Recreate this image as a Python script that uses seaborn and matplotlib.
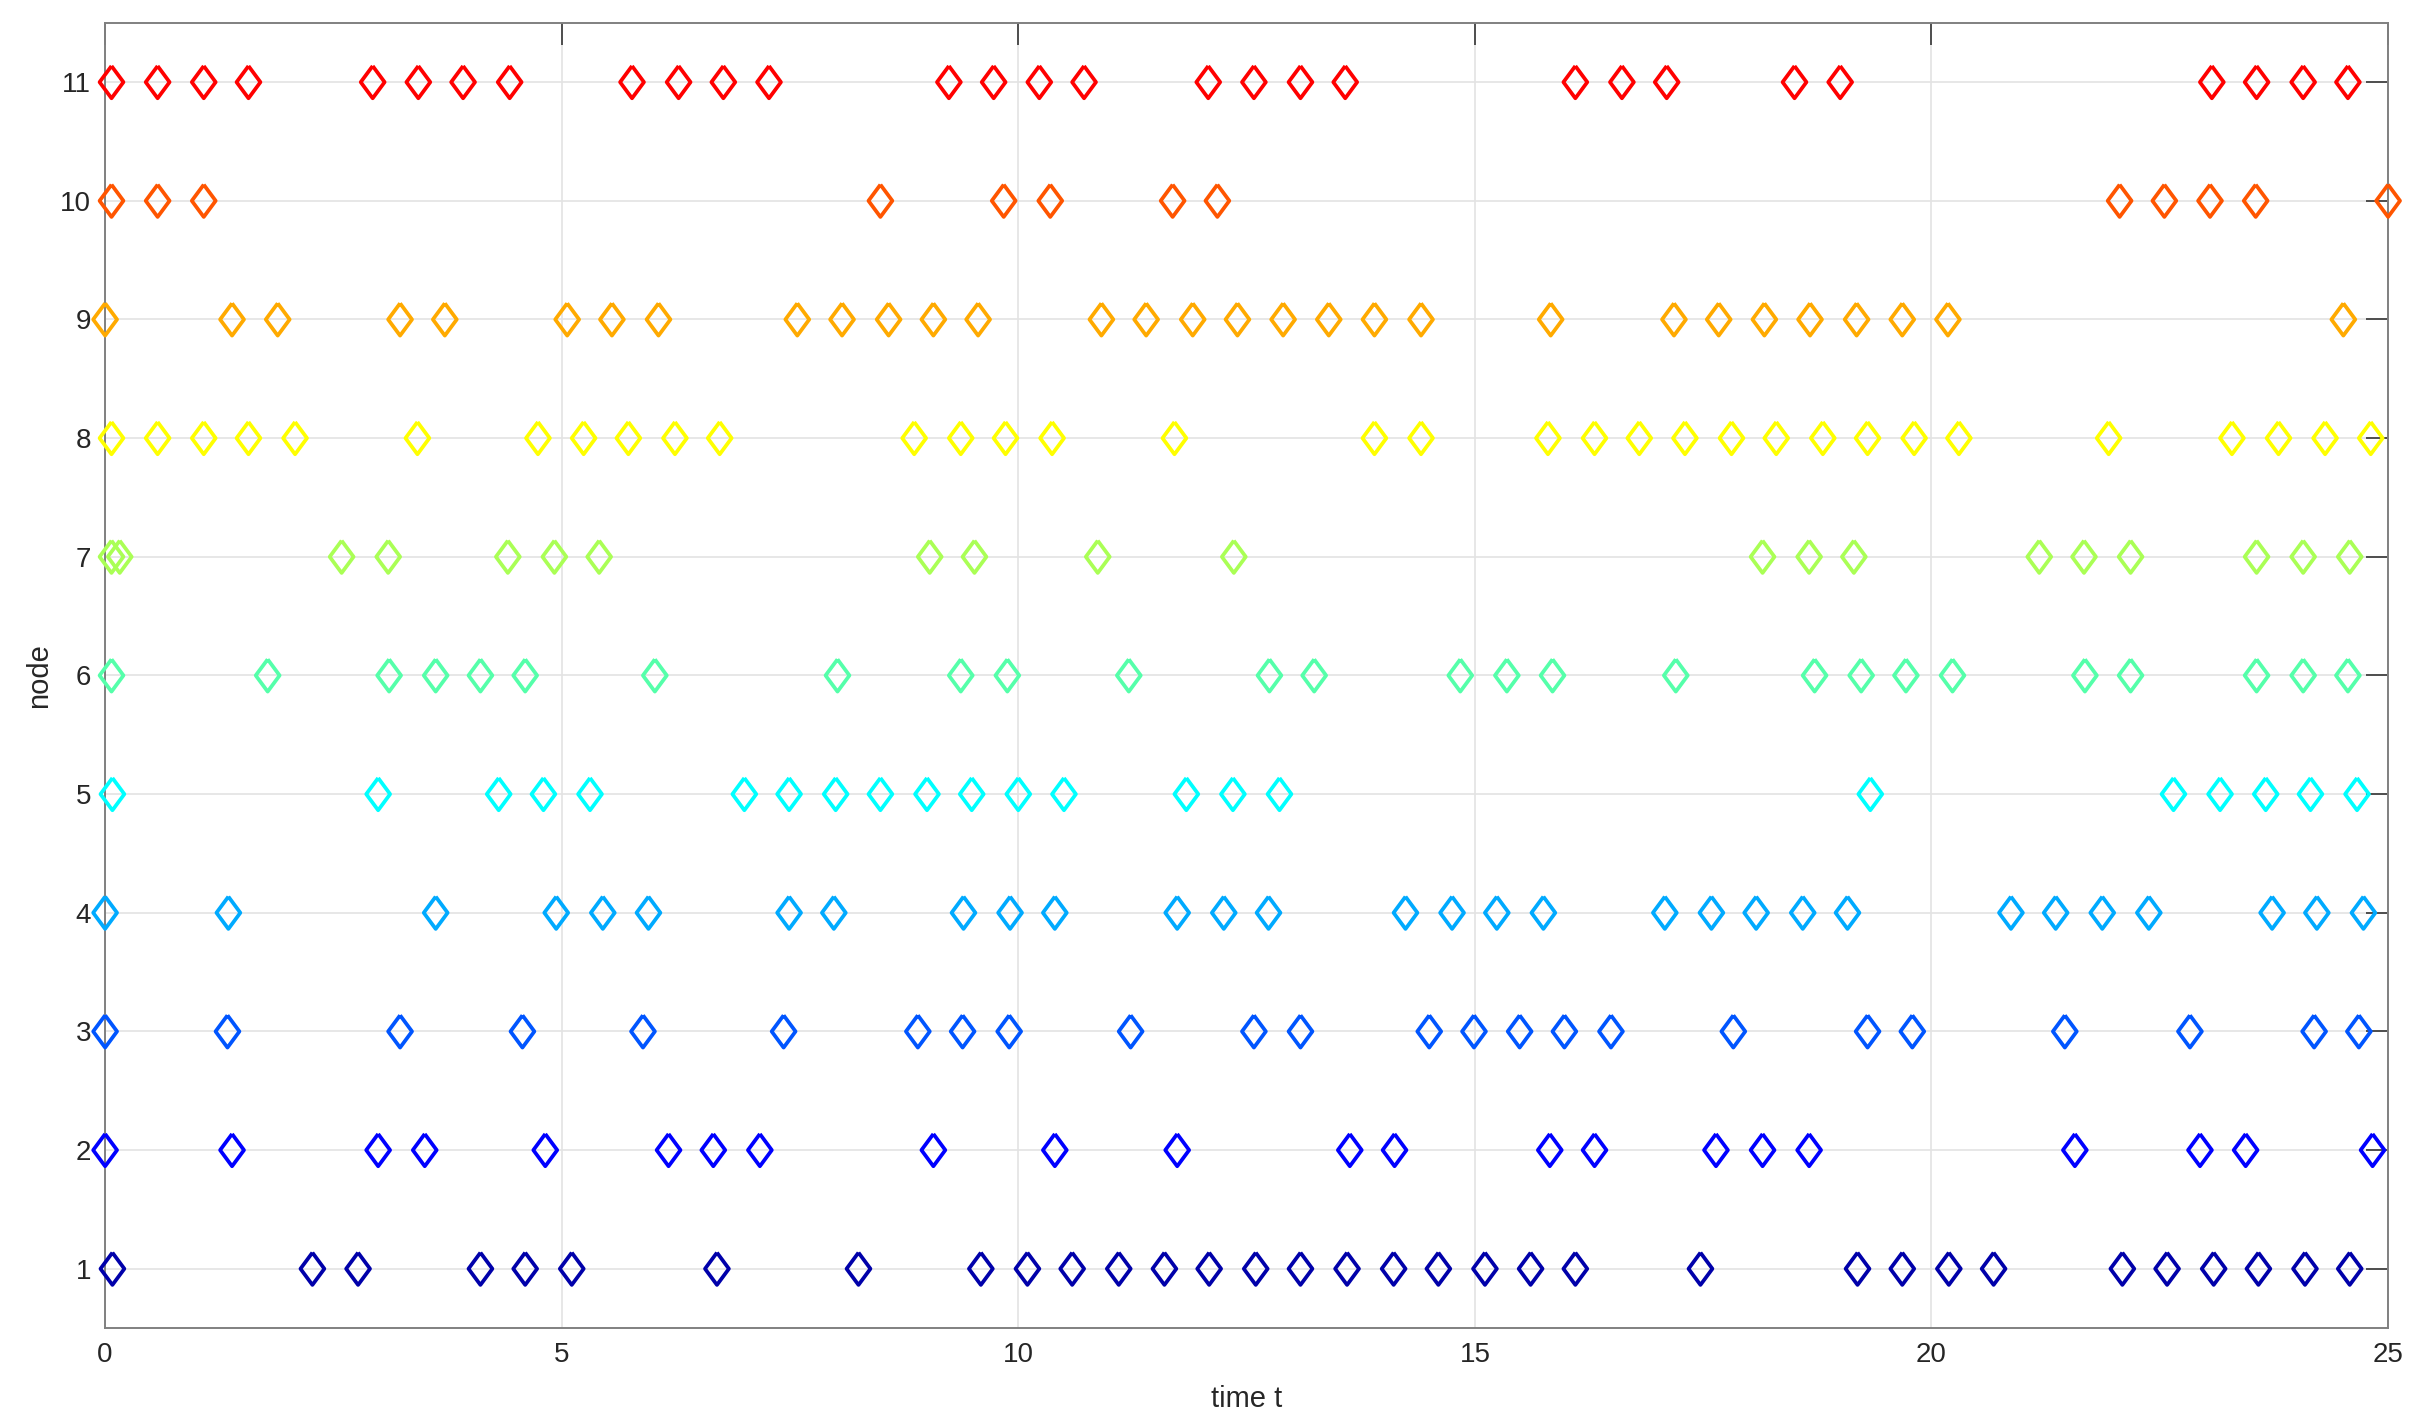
import numpy as np
import pandas as pd
import matplotlib
matplotlib.use('Agg')
import matplotlib.pyplot as plt
import seaborn as sns

# event times for each node
t_node1 = [0.08, 2.27, 2.77, 4.11, 4.60, 5.11, 6.70, 8.25, 9.59, 10.10, 10.59, 11.10, 11.60,
           12.09, 12.60, 13.09, 13.60, 14.11, 14.60, 15.11, 15.61, 16.10, 17.47, 19.19, 19.68,
           20.19, 20.68, 22.09, 22.58, 23.09, 23.58, 24.09, 24.58]
t_node2 = [0.0, 1.39, 2.99, 3.50, 4.82, 6.17, 6.66, 7.17, 9.07, 10.40, 11.74, 13.63, 14.12,
           15.82, 16.31, 17.64, 18.15, 18.66, 21.57, 22.94, 23.44, 24.83]
t_node3 = [0.0, 1.34, 3.23, 4.57, 5.89, 7.43, 8.90, 9.39, 9.90, 11.23, 12.58, 13.09, 14.50,
           14.99, 15.49, 15.98, 16.49, 17.83, 19.30, 19.79, 21.46, 22.83, 24.19, 24.68]
t_node4 = [0.0, 1.35, 3.62, 4.94, 5.45, 5.95, 7.49, 7.98, 9.40, 9.91, 10.40, 11.74, 12.25,
           12.74, 14.24, 14.75, 15.24, 15.75, 17.08, 17.59, 18.08, 18.59, 19.08, 20.87, 21.36,
           21.87, 22.38, 23.73, 24.22, 24.73]
t_node5 = [0.08, 2.99, 4.31, 4.80, 5.31, 7.00, 7.49, 8.00, 8.49, 9.00, 9.49, 10.00, 10.50,
           11.84, 12.35, 12.86, 19.33, 22.65, 23.16, 23.66, 24.15, 24.66]
t_node6 = [0.07, 1.78, 3.11, 3.62, 4.11, 4.60, 6.02, 8.02, 9.37, 9.88, 11.21, 12.75, 13.24,
           14.84, 15.35, 15.85, 17.20, 18.72, 19.23, 19.72, 20.23, 21.68, 22.18, 23.56, 24.07,
           24.56]
t_node7 = [0.07, 0.16, 2.59, 3.10, 4.41, 4.92, 5.41, 9.03, 9.52, 10.87, 12.36, 18.15, 18.66,
           19.15, 21.18, 21.67, 22.18, 23.56, 24.07, 24.58]
t_node8 = [0.07, 0.575, 1.08, 1.57, 2.08, 3.42, 4.74, 5.24, 5.73, 6.24, 6.73, 8.86, 9.37, 9.86,
           10.37, 11.71, 13.90, 14.41, 15.80, 16.31, 16.80, 17.30, 17.81, 18.30, 18.81, 19.30,
           19.81, 20.30, 21.94, 23.29, 23.80, 24.31, 24.81]
t_node9 = [0.0, 1.39, 1.89, 3.23, 3.72, 5.06, 5.55, 6.06, 7.58, 8.07, 8.58, 9.07, 9.56, 10.91,
           11.40, 11.91, 12.40, 12.90, 13.40, 13.90, 14.41, 15.83, 17.18, 17.67, 18.17, 18.67,
           19.18, 19.68, 20.18, 24.51]
t_node10 = [0.07, 0.575, 1.08, 8.49, 9.84, 10.35, 11.69, 12.18, 22.06, 22.55, 23.05, 23.55, 25.0]
t_node11 = [0.07, 0.575, 1.08, 1.57, 2.93, 3.43, 3.92, 4.43, 5.77, 6.28, 6.77, 7.27, 9.24,
            9.73, 10.23, 10.72, 12.08, 12.58, 13.09, 13.58, 16.10, 16.61, 17.10, 18.50, 19.0,
            23.07, 23.56, 24.07, 24.56]

nodes = list(range(1, 12))
times = [t_node1, t_node2, t_node3, t_node4, t_node5, t_node6,
         t_node7, t_node8, t_node9, t_node10, t_node11]
node_colors = ['#0000aa', '#0000ff', '#0055ff', '#00aaff', '#00ffff', '#55ffaa',
               '#aaff55', '#ffff00', '#ffaa00', '#ff5500', '#ff0000']

df = pd.DataFrame({
    't': [v for ts in times for v in ts],
    'node': [n for n, ts in zip(nodes, times) for _ in ts],
})

sns.set_style('white')
plt.rcParams['font.family'] = ['Liberation Sans', 'DejaVu Sans']

fig = plt.figure(figsize=(24.22, 14.25), dpi=100)
ax = fig.add_axes([0.0434, 0.068, 0.9426, 0.916])

# hollow diamond, a bit taller than wide
diamond = [(0, 1), (0.74, 0), (0, -1), (-0.74, 0), (0, 1)]
sns.scatterplot(data=df, x='t', y='node', hue='node',
                palette=dict(zip(nodes, node_colors)),
                marker=diamond, s=540, linewidth=2.7, legend=False,
                clip_on=False, zorder=3, ax=ax)
pts = ax.collections[0]
pts.set_edgecolors(pts.get_facecolors())
pts.set_facecolors('none')

ax.set_xlim(0, 25)
ax.set_ylim(0.5, 11.5)
ax.set_xticks([0, 5, 10, 15, 20, 25])
ax.set_yticks(nodes)
ax.grid(True, color='#e3e3e3', linewidth=1.2)
ax.set_axisbelow(True)
for sp in ax.spines.values():
    sp.set_visible(True)
    sp.set_color('#808080')
    sp.set_linewidth(1.4)
ax.tick_params(direction='in', length=16, width=1.2, color='#333333',
               top=True, right=True, labelsize=20, labelcolor='#262626', pad=10)
ax.set_xlabel('time t', fontsize=21, color='#262626', labelpad=12)
ax.set_ylabel('node', fontsize=21, color='#262626', labelpad=5)

fig.savefig('out.png', dpi=100)
